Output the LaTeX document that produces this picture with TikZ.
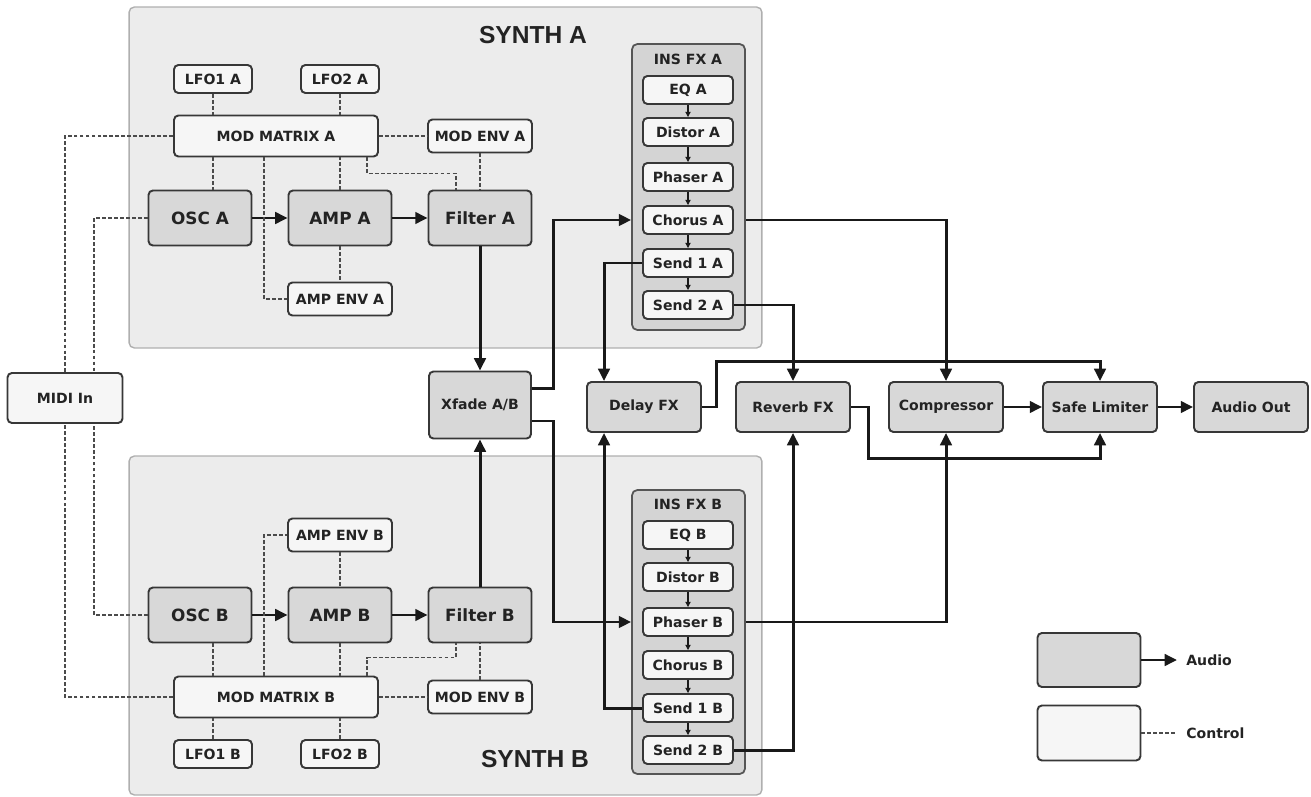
\documentclass[tikz,border=0pt]{standalone}
\usepackage{fontspec}
\setmainfont{DejaVu Sans}
\newfontfamily\ttlfont{Liberation Sans}
\usetikzlibrary{
    arrows.meta,
    calc,
    positioning
}
\definecolor{panelfill}{RGB}{236,236,236}
\definecolor{panelline}{RGB}{175,175,175}
\definecolor{audfill}{RGB}{216,216,216}
\definecolor{ctlfill}{RGB}{246,246,246}
\definecolor{insfill}{RGB}{212,212,212}
\definecolor{boxline}{RGB}{55,55,55}
\definecolor{wireclr}{RGB}{25,25,25}
\definecolor{ctlclr}{RGB}{75,75,75}
\definecolor{txtclr}{RGB}{35,35,35}
\newcommand{\blkfnt}{\fontsize{9.6}{11}\selectfont\bfseries}
\newcommand{\labfnt}{\fontsize{8}{9.5}\selectfont\bfseries}
\tikzset{panel/.style={draw=panelline, fill=panelfill, rounded corners=3pt, line width=0.8pt}}
\tikzset{insbox/.style={draw=boxline!85, fill=insfill, rounded corners=3pt, line width=1pt, minimum width=2.26cm}}
\tikzset{audbox/.style={draw=boxline, fill=audfill, rounded corners=2.5pt, line width=1.1pt, text=txtclr, font=\blkfnt, minimum width=2.06cm, minimum height=1.1cm}}
\tikzset{busbox/.style={audbox, font=\labfnt, minimum width=2.28cm, minimum height=1cm}}
\tikzset{ctlbox/.style={draw=boxline, fill=ctlfill, rounded corners=2.5pt, line width=1.1pt, text=txtclr, font=\labfnt, minimum width=2.08cm, minimum height=0.66cm}}
\tikzset{lfobox/.style={ctlbox, minimum width=1.56cm, minimum height=0.56cm}}
\tikzset{mmbox/.style={ctlbox, minimum width=4.08cm, minimum height=0.82cm}}
\tikzset{fxbox/.style={ctlbox, minimum width=1.8cm, minimum height=0.56cm}}
\tikzset{aud/.style={draw=wireclr, line width=1.7pt, -{Triangle[length=7pt,width=6.5pt]}}}
\tikzset{ctl/.style={draw=ctlclr, line width=0.9pt, dash pattern=on 2.2pt off 1.2pt}}
\tikzset{fxarr/.style={draw=wireclr, line width=0.6pt, -{Triangle[length=3pt,width=3pt]}}}
\tikzset{ttl/.style={font=\ttlfont\fontsize{14}{16}\selectfont\bfseries, text=txtclr}}
\tikzset{lgtxt/.style={font=\labfnt, text=txtclr, inner xsep=0.18cm}}

\begin{document}
\begin{tikzpicture}[x=0.02cm, y=-0.02cm]
    \useasboundingbox (0,0) rectangle (1311,797);

    % synth panels
    \node[panel, minimum width=12.66cm, minimum height=6.82cm] (synA) at (445.5,177.5) {};
    \node[panel, minimum width=12.66cm, minimum height=6.78cm] (synB) at (445.5,625.5) {};
    \node[ttl] (synAt) at (533,35) {SYNTH A};
    \node[ttl] (synBt) at (535,759) {SYNTH B};

    % insert fx
    \node[insbox, minimum height=5.72cm] (insA) at (688.5,187) {};
    \node[insbox, minimum height=5.68cm] (insB) at (688.5,632) {};
    \node[font=\labfnt, text=txtclr] (insAt) at (688,59) {INS FX A};
    \node[font=\labfnt, text=txtclr] (insBt) at (688,504) {INS FX B};
    \foreach \nm/\txt/\yy in {eqA/EQ A/90, disA/Distor A/132, phasA/Phaser A/177,
        chorA/Chorus A/220, sendoneA/Send 1 A/263, sendtwoA/Send 2 A/305,
        eqB/EQ B/535, disB/Distor B/577, phasB/Phaser B/622,
        chorB/Chorus B/665, sendoneB/Send 1 B/708, sendtwoB/Send 2 B/750}
        \node[fxbox] (\nm) at (688,\yy) {\txt};
    \foreach \a/\b in {eqA/disA, disA/phasA, phasA/chorA, chorA/sendoneA, sendoneA/sendtwoA,
        eqB/disB, disB/phasB, phasB/chorB, chorB/sendoneB, sendoneB/sendtwoB}
        \draw[fxarr] (\a) -- (\b);

    % synth A
    \node[lfobox] (lfo1A) at (213,79) {LFO1 A};
    \node[lfobox] (lfo2A) at (340,79) {LFO2 A};
    \node[mmbox] (mmA) at (276,136) {MOD MATRIX A};
    \node[ctlbox] (modenvA) at (480,136) {MOD ENV A};
    \node[audbox] (oscA) at (200,218) {OSC A};
    \node[audbox] (ampA) at (340,218) {AMP A};
    \node[audbox] (filtA) at (480,218) {Filter A};
    \node[ctlbox] (ampenvA) at (340,299) {AMP ENV A};

    % synth B
    \node[ctlbox] (ampenvB) at (340,535) {AMP ENV B};
    \node[audbox] (oscB) at (200,615) {OSC B};
    \node[audbox] (ampB) at (340,615) {AMP B};
    \node[audbox] (filtB) at (480,615) {Filter B};
    \node[mmbox] (mmB) at (276,697) {MOD MATRIX B};
    \node[ctlbox] (modenvB) at (480,697) {MOD ENV B};
    \node[lfobox] (lfo1B) at (213,754) {LFO1 B};
    \node[lfobox] (lfo2B) at (340,754) {LFO2 B};

    % middle row
    \node[ctlbox, minimum width=2.3cm, minimum height=1cm] (midi) at (65,398) {MIDI In};
    \node[audbox, font=\labfnt, minimum width=2.04cm, minimum height=1.34cm] (xfade) at (480,405) {Xfade A/B};
    \node[busbox] (delay) at (644,407) {Delay FX};
    \node[busbox] (reverb) at (793,407) {Reverb FX};
    \node[busbox] (comp) at (946,407) {Compressor};
    \node[busbox] (limit) at (1100,407) {Safe Limiter};
    \node[busbox] (out) at (1251,407) {Audio Out};

    % legend
    \node[audbox, minimum width=2.06cm, minimum height=1.08cm] (legaud) at (1089,660) {};
    \node[ctlbox, minimum width=2.06cm, minimum height=1.1cm] (legctl) at (1089,733) {};
    \node[lgtxt, anchor=west] (audtxt) at (1177,660) {Audio};
    \node[lgtxt, anchor=west] (ctltxt) at (1177,733) {Control};
    \draw[aud] (legaud.east) -- (audtxt.west);
    \draw[ctl] (legctl.east) -- (ctltxt.west);

    % audio A/B
    \draw[aud] (oscA) -- (ampA);
    \draw[aud] (ampA) -- (filtA);
    \draw[aud] (oscB) -- (ampB);
    \draw[aud] (ampB) -- (filtB);
    \draw[aud] (filtA) -- (xfade);
    \draw[aud] (filtB) -- (xfade);
    \draw[aud] ([yshift=0.33cm]xfade.east) -- ++(0.44cm,0) |- (insA.west |- chorA);
    \draw[aud] ([yshift=-0.32cm]xfade.east) -- ++(0.44cm,0) |- (insB.west |- phasB);

    % sends and bus
    \draw[aud] (sendoneA.west) -| ([xshift=-0.8cm]delay.north);
    \draw[aud] (sendoneB.west) -| ([xshift=-0.8cm]delay.south);
    \draw[aud] (sendtwoA.east) -| (reverb.north);
    \draw[aud] (sendtwoB.east) -| (reverb.south);
    \draw[aud] (insA.east |- chorA) -| (comp.north);
    \draw[aud] (insB.east |- phasB) -| (comp.south);
    \draw[aud] (delay.east) -- ++(0.3cm,0) |- ([yshift=0.4cm]limit.north) -- (limit.north);
    \draw[aud] (reverb.east) -- ++(0.36cm,0) |- ([yshift=-0.52cm]limit.south) -- (limit.south);
    \draw[aud] (comp) -- (limit);
    \draw[aud] (limit) -- (out);

    % control A
    \draw[ctl] (lfo1A.south) -- (lfo1A.south |- mmA.north);
    \draw[ctl] (lfo2A.south) -- (lfo2A.south |- mmA.north);
    \draw[ctl] (lfo1A.south |- mmA.south) -- (lfo1A.south |- oscA.north);
    \draw[ctl] (ampA.north) -- (ampA.north |- mmA.south);
    \draw[ctl] (mmA.east) -- (modenvA.west);
    \draw[ctl] (modenvA.south) -- (filtA.north);
    \draw[ctl] (ampA.south) -- (ampenvA.north);
    \draw[ctl] ([xshift=-0.24cm]mmA.south) |- (ampenvA.west);
    \draw[ctl] ([xshift=1.82cm]mmA.south) -- ++(0,-0.32cm) -| ([xshift=-0.48cm]filtA.north);

    % control B
    \draw[ctl] (lfo1B.north) -- (lfo1B.north |- mmB.south);
    \draw[ctl] (lfo2B.north) -- (lfo2B.north |- mmB.south);
    \draw[ctl] (lfo1B.north |- oscB.south) -- (lfo1B.north |- mmB.north);
    \draw[ctl] (ampB.south) -- (ampB.south |- mmB.north);
    \draw[ctl] (ampenvB.south) -- (ampB.north);
    \draw[ctl] ([xshift=-0.24cm]mmB.north) |- (ampenvB.west);
    \draw[ctl] ([xshift=1.82cm]mmB.north) -- ++(0,0.36cm) -| ([xshift=-0.48cm]filtB.south);
    \draw[ctl] (mmB.east) -- (modenvB.west);
    \draw[ctl] (modenvB.north) -- (filtB.south);

    % midi
    \draw[ctl] (mmA.west) -| (midi.north);
    \draw[ctl] (oscA.west) -| ([xshift=0.58cm]midi.north);
    \draw[ctl] (mmB.west) -| (midi.south);
    \draw[ctl] (oscB.west) -| ([xshift=0.58cm]midi.south);
\end{tikzpicture}
\end{document}
